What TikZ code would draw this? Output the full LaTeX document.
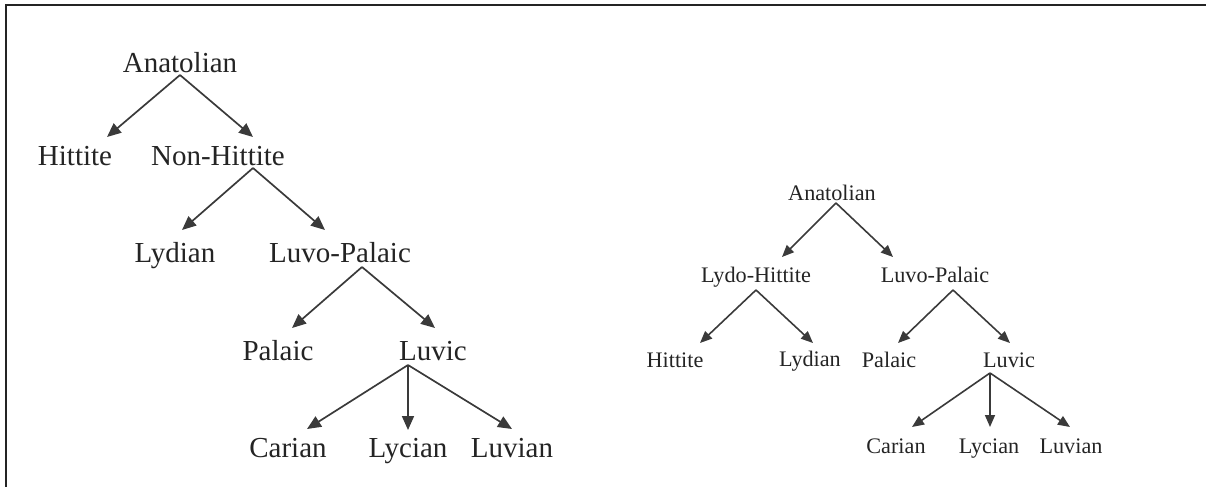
\documentclass[tikz,border=0pt]{standalone}
\usepackage{fontspec}
\setmainfont{Liberation Serif}
\usetikzlibrary{arrows.meta}
\definecolor{inkgray}{HTML}{242424}
\definecolor{linegray}{HTML}{3A3A3A}
\begin{document}
\begin{tikzpicture}[x=0.5pt,y=-0.5pt,
  lbl/.style={anchor=base,inner sep=0pt,text=inkgray},
  bigtxt/.style={lbl,font=\fontsize{14.5}{17}\selectfont},
  smalltxt/.style={lbl,font=\fontsize{11.1}{13}\selectfont},
  arr/.style={draw=linegray,line width=0.85pt,-{Triangle[length=7pt,width=6pt]}},
  arrs/.style={draw=linegray,line width=0.8pt,-{Triangle[length=6pt,width=5pt]}}]
\useasboundingbox (0,0) rectangle (1206,487);
% frame: top and left rules
\draw[draw=inkgray,line width=1pt] (6,487) -- (6,5) -- (1206,5);

% ---- first tree ----
\node[bigtxt] (A1)  at (180,72)  {Anatolian};
\node[bigtxt] (H1)  at (75,165)  {Hittite};
\node[bigtxt] (NH)  at (218,165) {Non-Hittite};
\node[bigtxt] (Ly1) at (175,262) {Lydian};
\node[bigtxt] (LP1) at (340,262) {Luvo-Palaic};
\node[bigtxt] (Pa1) at (278,360) {Palaic};
\node[bigtxt] (Lv1) at (433,360) {Luvic};
\node[bigtxt] (Ca1) at (288,457) {Carian};
\node[bigtxt] (Lc1) at (408,457) {Lycian};
\node[bigtxt] (Lu1) at (512,457) {Luvian};

\draw[arr] ([shift={(0,3)}]A1.base) -- ([shift={(32,-28)}]H1.base);
\draw[arr] ([shift={(0,3)}]A1.base) -- ([shift={(35,-28)}]NH.base);
\draw[arr] ([shift={(35,3)}]NH.base) -- ([shift={(7,-32)}]Ly1.base);
\draw[arr] ([shift={(35,3)}]NH.base) -- ([shift={(-15,-32)}]LP1.base);
\draw[arr] ([shift={(22,5)}]LP1.base) -- ([shift={(14,-32)}]Pa1.base);
\draw[arr] ([shift={(22,5)}]LP1.base) -- ([shift={(2,-32)}]Lv1.base);
\draw[arr] ([shift={(-25,5)}]Lv1.base) -- ([shift={(19,-28)}]Ca1.base);
\draw[arr] ([shift={(-25,5)}]Lv1.base) -- ([shift={(0,-27)}]Lc1.base);
\draw[arr] ([shift={(-25,5)}]Lv1.base) -- ([shift={(0,-28)}]Lu1.base);

% ---- second tree ----
\node[smalltxt] (A2)  at (832,200)  {Anatolian};
\node[smalltxt] (LH)  at (756,282)  {Lydo-Hittite};
\node[smalltxt] (LP2) at (935,282)  {Luvo-Palaic};
\node[smalltxt] (H2)  at (675,367)  {Hittite};
\node[smalltxt] (Ly2) at (810,366)  {Lydian};
\node[smalltxt] (Pa2) at (889,367)  {Palaic};
\node[smalltxt] (Lv2) at (1009,367) {Luvic};
\node[smalltxt] (Ca2) at (896,453)  {Carian};
\node[smalltxt] (Lc2) at (989,453)  {Lycian};
\node[smalltxt] (Lu2) at (1071,453) {Luvian};

\draw[arrs] ([shift={(4,3)}]A2.base) -- ([shift={(26,-25)}]LH.base);
\draw[arrs] ([shift={(4,3)}]A2.base) -- ([shift={(-42,-25)}]LP2.base);
\draw[arrs] ([shift={(0,8)}]LH.base) -- ([shift={(25,-24)}]H2.base);
\draw[arrs] ([shift={(0,8)}]LH.base) -- ([shift={(3,-23)}]Ly2.base);
\draw[arrs] ([shift={(18,8)}]LP2.base) -- ([shift={(9,-24)}]Pa2.base);
\draw[arrs] ([shift={(18,8)}]LP2.base) -- ([shift={(1,-24)}]Lv2.base);
\draw[arrs] ([shift={(-19,6)}]Lv2.base) -- ([shift={(16,-26)}]Ca2.base);
\draw[arrs] ([shift={(-19,6)}]Lv2.base) -- ([shift={(1,-26)}]Lc2.base);
\draw[arrs] ([shift={(-19,6)}]Lv2.base) -- ([shift={(-1,-26)}]Lu2.base);
\end{tikzpicture}
\end{document}
